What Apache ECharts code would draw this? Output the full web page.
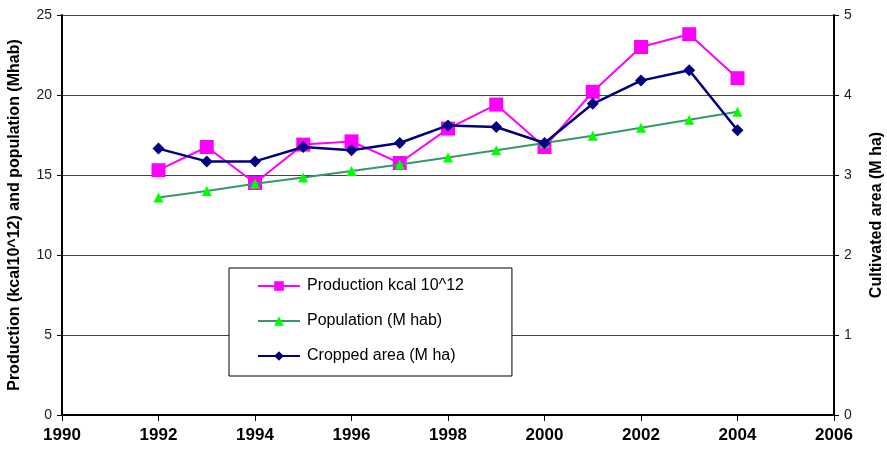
<!DOCTYPE html>
<html>
<head>
<meta charset="utf-8">
<script src="https://cdn.jsdelivr.net/npm/echarts@6/dist/echarts.min.js"></script>
<style>
  html, body { margin: 0; padding: 0; background: #fff; }
  #chart { width: 887px; height: 451px; }
</style>
</head>
<body>
<div id="chart"></div>
<script>
// years on the x axis
var years = [1992, 1993, 1994, 1995, 1996, 1997, 1998, 1999, 2000, 2001, 2002, 2003, 2004];
// production kcal 10^12 (left axis)
var production = [15.3, 16.75, 14.5, 16.9, 17.1, 15.75, 17.9, 19.4, 16.75, 20.2, 23.0, 23.8, 21.05];
// population M hab (left axis)
var population = [13.6, 14.0, 14.45, 14.85, 15.25, 15.65, 16.1, 16.55, 17.0, 17.45, 17.95, 18.45, 18.95];
// cropped area M ha (right axis)
var cropped = [3.33, 3.17, 3.17, 3.35, 3.31, 3.40, 3.62, 3.60, 3.40, 3.89, 4.18, 4.31, 3.56];

function pairs(xs, ys) {
  var out = [];
  for (var i = 0; i < xs.length; i++) out.push([xs[i], ys[i]]);
  return out;
}

var chart = echarts.init(document.getElementById('chart'));
var font = 'Liberation Sans, Arial, sans-serif';

var option = {
  animation: false,
  grid: { left: 62, right: 53, top: 15, bottom: 36, outerBoundsMode: 'none', containLabel: false },
  legend: {
    orient: 'vertical',
    left: 229,
    top: 268,
    width: 284,
    padding: [10, 48, 12, 28],
    itemGap: 19,
    itemWidth: 42,
    itemHeight: 12,
    backgroundColor: '#fff',
    borderColor: '#000',
    borderWidth: 1,
    textStyle: { fontFamily: font, fontSize: 16, color: '#000', padding: [0, 0, 0, 2] },
    data: ['Production kcal 10^12', 'Population (M hab)', 'Cropped area (M ha)']
  },
  xAxis: {
    type: 'value',
    min: 1990,
    max: 2006,
    interval: 2,
    axisLine: { show: true, lineStyle: { color: '#000', width: 2 } },
    axisTick: { show: true, length: 6, lineStyle: { color: '#000' } },
    axisLabel: {
      fontFamily: font, fontSize: 17, fontWeight: 'bold', color: '#000', margin: 12,
      formatter: function (v) { return String(v); }
    },
    splitLine: { show: false }
  },
  yAxis: [
    {
      type: 'value',
      min: 0,
      max: 25,
      interval: 5,
      name: 'Production (kcal10^12) and population (Mhab)',
      nameLocation: 'middle',
      nameGap: 39,
      nameTextStyle: { fontFamily: font, fontSize: 16, fontWeight: 'bold', color: '#000' },
      axisLine: { show: true, lineStyle: { color: '#000', width: 2 } },
      axisTick: { show: true, length: 5, lineStyle: { color: '#000' } },
      axisLabel: { fontFamily: font, fontSize: 14, color: '#222', margin: 10 },
      splitLine: { show: true, lineStyle: { color: '#444', width: 1 } }
    },
    {
      type: 'value',
      min: 0,
      max: 5,
      interval: 1,
      position: 'right',
      name: 'Cultivated area (M ha)',
      nameLocation: 'middle',
      nameGap: 35,
      nameRotate: 90,
      nameTextStyle: { fontFamily: font, fontSize: 16, fontWeight: 'bold', color: '#000' },
      axisLine: { show: true, lineStyle: { color: '#000', width: 2 } },
      axisTick: { show: true, length: 5, lineStyle: { color: '#000' } },
      axisLabel: { fontFamily: font, fontSize: 14, color: '#222', margin: 10 },
      splitLine: { show: false }
    }
  ],
  series: [
    {
      name: 'Production kcal 10^12',
      type: 'line',
      yAxisIndex: 0,
      data: pairs(years, production),
      symbol: 'rect',
      symbolSize: 14,
      lineStyle: { color: '#ff00ff', width: 2 },
      itemStyle: { color: '#ff00ff', borderWidth: 0 },
      z: 2
    },
    {
      name: 'Population (M hab)',
      type: 'line',
      yAxisIndex: 0,
      data: pairs(years, population),
      symbol: 'triangle',
      symbolSize: 10,
      lineStyle: { color: '#339966', width: 2 },
      itemStyle: { color: '#00ff00', borderWidth: 0 },
      z: 3
    },
    {
      name: 'Cropped area (M ha)',
      type: 'line',
      yAxisIndex: 1,
      data: pairs(years, cropped),
      symbol: 'diamond',
      symbolSize: 12,
      lineStyle: { color: '#000080', width: 2.5 },
      itemStyle: { color: '#000080', borderWidth: 0 },
      z: 4
    }
  ]
};

chart.setOption(option);
</script>
</body>
</html>
